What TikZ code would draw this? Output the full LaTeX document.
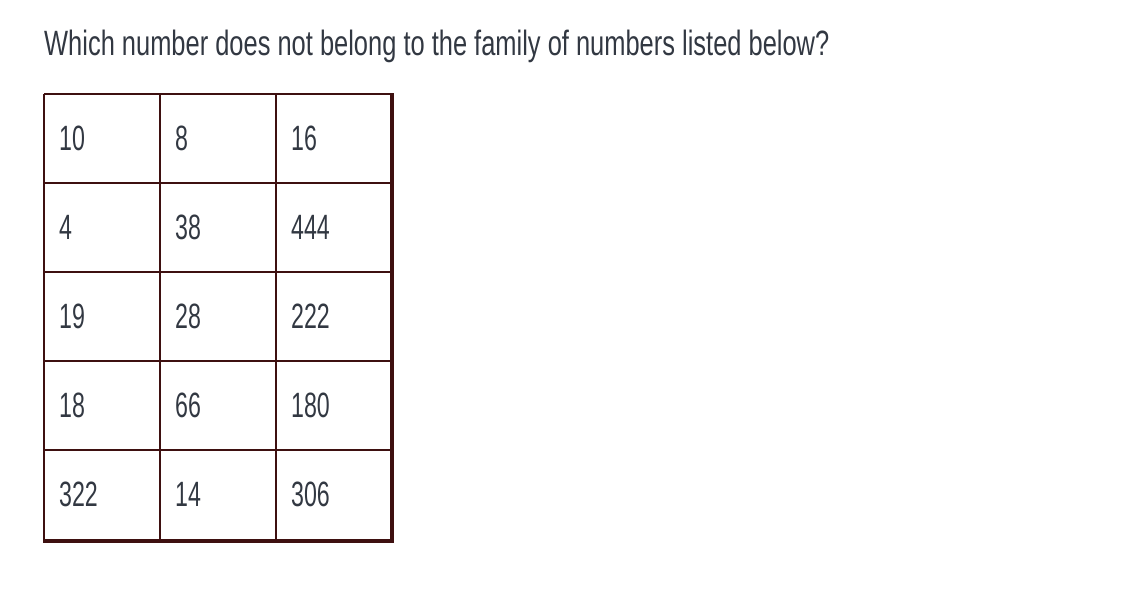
\documentclass[tikz,border=0pt]{standalone}
\usepackage{fontspec}
\setmainfont{Liberation Sans}
\definecolor{gridline}{RGB}{62,16,16}
\definecolor{numtext}{RGB}{50,56,66}
\tikzset{
  cell/.style={anchor=west, inner sep=0, text=numtext, font=\fontsize{25}{30}\selectfont, xscale=0.66},
  gridrule/.style={draw=gridline, line width=1.4pt}
}
\begin{document}
\begin{tikzpicture}[x=0.025cm,y=-0.025cm]
		\useasboundingbox (0,0) rectangle (1126,598);
		%%%%% START %%%%%
		\node[anchor=base west, inner sep=0, text=numtext, font=\fontsize{25}{30}\selectfont, xscale=0.724] (question) at (44,55) {Which number does not belong to the family of numbers listed below?};
		
		\foreach \y in {94,183,272,361,450}
			\draw[gridrule] (44,\y) -- (392,\y);
		\foreach \x in {44,160,276}
			\draw[gridrule] (\x,94) -- (\x,541);
		\draw[gridrule, line width=2.8pt] (392,93) -- (392,541) -- (43,541);
		
		\foreach \a/\b/\c [count=\r] in {10/8/16, 4/38/444, 19/28/222, 18/66/180, 322/14/306} {
			\node[cell] (n-\r-1) at (59,49.5+89*\r) {\a};
			\node[cell] (n-\r-2) at (175,49.5+89*\r) {\b};
			\node[cell] (n-\r-3) at (291,49.5+89*\r) {\c};
		}
		%%%%% END %%%%%
\end{tikzpicture}
\end{document}
